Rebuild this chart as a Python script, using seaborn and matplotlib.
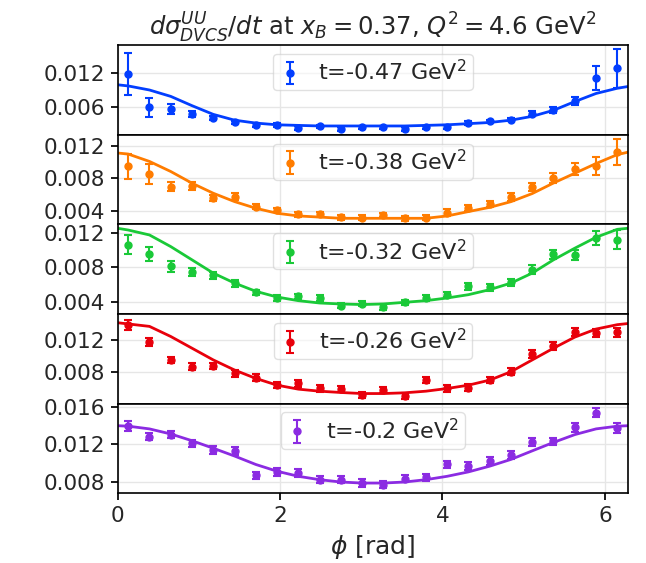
import numpy as np
import seaborn as sns
import matplotlib.pyplot as plt

# phi bins (24 bin centres) and model curve sample points
phi = (np.arange(24) + 0.5) * np.pi / 12
phi_curve = np.concatenate([[0.0], phi, [2 * np.pi]])

t_labels = ['t=-0.47 GeV$^2$', 't=-0.38 GeV$^2$', 't=-0.32 GeV$^2$',
            't=-0.26 GeV$^2$', 't=-0.2 GeV$^2$']

xs_047 = [0.0118, 0.0060, 0.00573, 0.00487, 0.00418, 0.00343, 0.00298, 0.00298,
          0.00247, 0.00274, 0.00230, 0.00257, 0.00257, 0.00230, 0.00257, 0.00266,
          0.00333, 0.00360, 0.00389, 0.00492, 0.00560, 0.00703, 0.01104, 0.01275]
err_047 = [0.0036, 0.0017, 0.0008, 0.0005, 0.0004, 0.0003, 0.0003, 0.0003,
           0.0003, 0.0003, 0.0003, 0.0003, 0.0003, 0.0003, 0.0003, 0.0003,
           0.0003, 0.0003, 0.0003, 0.0004, 0.0005, 0.0007, 0.0021, 0.0034]
fit_047 = [0.0099, 0.0097, 0.0090, 0.0079, 0.0063, 0.0048, 0.0038, 0.0033, 0.0030,
           0.0029, 0.0028, 0.0028, 0.0028, 0.0028, 0.0028, 0.0029, 0.0030, 0.0032,
           0.0034, 0.0038, 0.00446, 0.0055, 0.0070, 0.0084, 0.0093, 0.0096]

xs_038 = [0.00944, 0.0085, 0.00697, 0.00705, 0.00553, 0.00573, 0.0045, 0.00408,
          0.00355, 0.00355, 0.00318, 0.00313, 0.00346, 0.00305, 0.00313, 0.00375,
          0.00429, 0.00482, 0.00573, 0.00689, 0.0080, 0.00911, 0.00953, 0.01118]
err_038 = [0.0015, 0.0012, 0.0006, 0.0005, 0.0004, 0.0004, 0.0003, 0.0003,
           0.0003, 0.0003, 0.0003, 0.0003, 0.0003, 0.0003, 0.0003, 0.0004,
           0.0004, 0.0004, 0.0005, 0.0005, 0.0006, 0.0007, 0.0011, 0.0016]
fit_038 = [0.0111, 0.01097, 0.01006, 0.00882, 0.00738, 0.00614, 0.00511, 0.00429,
           0.00367, 0.00334, 0.0032, 0.00305, 0.00305, 0.00305, 0.00305, 0.00305,
           0.00334, 0.00388, 0.0044, 0.0051, 0.0061, 0.0074, 0.0086, 0.0098, 0.0109,
           0.0112]

xs_032 = [0.01058, 0.00955, 0.0081, 0.00744, 0.00706, 0.00618, 0.00511, 0.00446,
          0.00465, 0.00446, 0.00358, 0.00381, 0.00343, 0.00396, 0.00446, 0.00484,
          0.0058, 0.00568, 0.00626, 0.00771, 0.00951, 0.00944, 0.01135, 0.01116]
err_032 = [0.0011, 0.0008, 0.0006, 0.0005, 0.0004, 0.0004, 0.0003, 0.0003,
           0.0003, 0.0003, 0.0003, 0.0003, 0.0003, 0.0003, 0.0003, 0.0003,
           0.0004, 0.0004, 0.0004, 0.0005, 0.0005, 0.0006, 0.0008, 0.0011]
fit_032 = [0.0125, 0.0123, 0.01173, 0.01039, 0.00886, 0.00733, 0.00618, 0.00523,
           0.00457, 0.00415, 0.00388, 0.00377, 0.0037, 0.00377, 0.00396, 0.00415,
           0.00446, 0.00484, 0.00542, 0.00618, 0.00733, 0.00886, 0.0102, 0.01146,
           0.01238, 0.0125]

xs_026 = [0.01386, 0.01171, 0.00953, 0.0087, 0.00878, 0.00788, 0.00734, 0.00643,
          0.00664, 0.00602, 0.00594, 0.0052, 0.00581, 0.00507, 0.00705, 0.00602,
          0.00614, 0.00705, 0.00808, 0.01027, 0.01126, 0.01291, 0.01282, 0.01291]
err_026 = [0.0006, 0.0005, 0.0004, 0.0004, 0.0004, 0.0004, 0.0004, 0.0004,
           0.0004, 0.0004, 0.0004, 0.0004, 0.0004, 0.0004, 0.0004, 0.0004,
           0.0004, 0.0004, 0.0004, 0.0005, 0.0005, 0.0005, 0.0005, 0.0006]
fit_026 = [0.0141, 0.01395, 0.01365, 0.01241, 0.01097, 0.00953, 0.00829, 0.00726,
           0.00643, 0.00594, 0.00569, 0.00553, 0.0054, 0.0054, 0.00549, 0.00569,
           0.00602, 0.00643, 0.00705, 0.00808, 0.00953, 0.01097, 0.01233, 0.01332,
           0.01386, 0.0140]

xs_020 = [0.01395, 0.01283, 0.01305, 0.01211, 0.01139, 0.01132, 0.00872, 0.00908,
          0.00897, 0.00825, 0.00825, 0.00789, 0.00771, 0.00836, 0.0085, 0.00987,
          0.00969, 0.01023, 0.01088, 0.01229, 0.01232, 0.01384, 0.01539, 0.01377]
err_020 = [0.0005, 0.0004, 0.0004, 0.0004, 0.0004, 0.0004, 0.0004, 0.0004,
           0.0004, 0.0004, 0.0004, 0.0004, 0.0004, 0.0004, 0.0004, 0.0004,
           0.0004, 0.0004, 0.0004, 0.0004, 0.0004, 0.0005, 0.0005, 0.0005]
fit_020 = [0.0140, 0.01395, 0.01366, 0.01312, 0.0124, 0.0116, 0.01077, 0.00987,
           0.00915, 0.00861, 0.00825, 0.008, 0.00789, 0.00789, 0.008, 0.00825,
           0.00861, 0.00908, 0.00969, 0.01041, 0.01132, 0.01222, 0.01305, 0.01366,
           0.01395, 0.0140]

all_xs = [xs_047, xs_038, xs_032, xs_026, xs_020]
all_err = [err_047, err_038, err_032, err_026, err_020]
all_fit = [fit_047, fit_038, fit_032, fit_026, fit_020]

ylims = [(0.0013, 0.01675), (0.00231, 0.01336), (0.00262, 0.01296),
         (0.00417, 0.01518), (0.00681, 0.01636)]
yticks = [[0.006, 0.012], [0.004, 0.008, 0.012], [0.004, 0.008, 0.012],
          [0.008, 0.012], [0.008, 0.012, 0.016]]

sns.set_theme(style='whitegrid')
plt.rcParams['font.family'] = ['DejaVu Sans']
colors = sns.color_palette('bright')

fig, axes = plt.subplots(5, 1, sharex=True, figsize=(6.46, 5.63), dpi=100)
fig.subplots_adjust(left=0.182, right=0.972, top=0.920, bottom=0.124, hspace=0)

for i, ax in enumerate(axes):
    c = colors[i]
    sns.lineplot(x=phi_curve, y=all_fit[i], color=c, lw=2, ax=ax)
    ax.errorbar(phi, all_xs[i], yerr=all_err[i], fmt='o', color=c, ms=5,
                capsize=3, elinewidth=1.5, capthick=1.5, label=t_labels[i])
    ax.set_xlim(0, 2 * np.pi)
    ax.set_ylim(*ylims[i])
    ax.set_yticks(yticks[i])
    ax.set_yticklabels(['%.3f' % v for v in yticks[i]])
    ax.tick_params(axis='both', labelsize=15.5, length=5, color='black',
                   left=True, bottom=(i == 4), pad=4)
    for sp in ax.spines.values():
        sp.set_edgecolor('black')
        sp.set_linewidth(1.2)
    ax.grid(True, color='#e6e6e6', lw=1)
    ax.legend(loc='upper center', fontsize=16, handletextpad=0.8,
              borderpad=0.25, handlelength=1.0, framealpha=0.6,
              borderaxespad=0.4)

axes[-1].set_xticks([0, 2, 4, 6])
axes[-1].set_xlabel(r'$\phi$ [rad]', fontsize=18, labelpad=5)
axes[0].set_title(r'$d\sigma^{UU}_{DVCS}/dt$ at $x_B = 0.37$, $Q^2 = 4.6$ GeV$^2$',
                  fontsize=17.5, pad=4)

fig.savefig('out.png', dpi=100)
